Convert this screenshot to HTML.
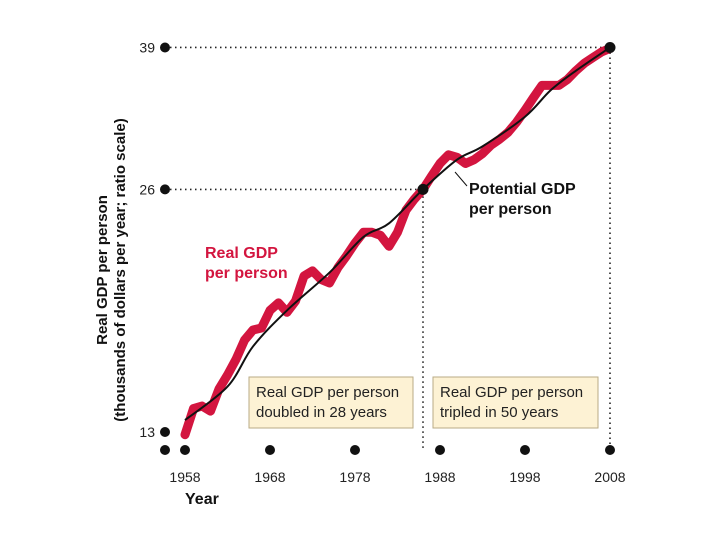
<!DOCTYPE html>
<html><head><meta charset="utf-8"><style>
body{margin:0;background:#fff}
svg text{font-family:"Liberation Sans",sans-serif}
</style></head><body>
<svg width="720" height="540" viewBox="0 0 720 540">
<g id="chart"></g>
</svg>
<script>
const realYears=[1958,1959,1960,1961,1962,1963,1964,1965,1966,1967,1968,1969,1970,1971,1972,1973,1974,1975,1976,1977,1978,1979,1980,1981,1982,1983,1984,1985,1986,1987,1988,1989,1990,1991,1992,1993,1994,1995,1996,1997,1998,1999,2000,2001,2002,2003,2004,2005,2006,2007,2008];
const realValues=[12.9,13.9,14.0,13.8,14.7,15.3,16.0,16.9,17.4,17.5,18.4,18.8,18.3,18.9,20.3,20.6,20.1,19.9,20.8,21.5,22.3,23.0,23.0,22.8,22.1,23.0,24.5,25.3,26.0,27.0,28.0,28.7,28.5,28.0,28.3,28.8,29.5,30.0,30.6,31.5,32.6,33.8,35.0,35.0,35.0,35.6,36.5,37.3,37.9,38.5,38.9];
const potYears=[1958,1963,1966,1970,1975,1979,1982,1986,1990,1993,1998,2001,2004,2008];
const potValues=[13.45,14.8,16.6,18.4,20.5,22.7,23.6,26.0,28.3,29.4,32.0,34.5,36.5,39.0];
const yTicks=[13,26,39];
const xTicks=[1958,1968,1978,1988,1998,2008];

const NS="http://www.w3.org/2000/svg";
const g=document.getElementById('chart');
const X=y=>185+(y-1958)*8.5;
const Y=v=>432-350*Math.log(v/13);
function mk(tag,attrs,text){const e=document.createElementNS(NS,tag);for(const k in attrs)e.setAttribute(k,attrs[k]);if(text!==undefined)e.textContent=text;g.appendChild(e);return e;}

// dotted guide lines
let e;
e=mk('polyline',{points:`165,${Y(26)} ${X(1986)},${Y(26)} ${X(1986)},450`,fill:'none',stroke:'#222','stroke-width':1.6,'stroke-dasharray':'1.5,3.5'});


e=mk('polyline',{points:`165,${Y(39)} ${X(2008)},${Y(39)} ${X(2008)},450`,fill:'none',stroke:'#222','stroke-width':1.6,'stroke-dasharray':'1.5,3.5'});



// real series
e=mk('polyline',{points:realYears.map((y,i)=>X(y)+','+Y(realValues[i])).join(' '),fill:'none',stroke:'#d3153f','stroke-width':9,'stroke-linejoin':'round','stroke-linecap':'round'});


// potential
const pts=potYears.map((y,i)=>[X(y),Y(potValues[i])]);
let d='M'+pts[0][0]+','+pts[0][1];
for(let i=0;i<pts.length-1;i++){const p0=pts[Math.max(0,i-1)],p1=pts[i],p2=pts[i+1],p3=pts[Math.min(pts.length-1,i+2)];
d+=` C${p1[0]+(p2[0]-p0[0])/6},${p1[1]+(p2[1]-p0[1])/6} ${p2[0]-(p3[0]-p1[0])/6},${p2[1]-(p3[1]-p1[1])/6} ${p2[0]},${p2[1]}`;}
e=mk('path',{d:d,fill:'none',stroke:'#111','stroke-width':2});



// y ticks
yTicks.forEach(v=>{
 e=mk('circle',{cx:165,cy:Y(v),r:5,fill:'#111'});
 
 
 e=mk('text',{x:155,y:Y(v)+5,'text-anchor':'end','font-size':14,fill:'#222'},String(v));
 
 
});
e=mk('circle',{cx:165,cy:450,r:5,fill:'#111'});


xTicks.forEach(y=>{
 e=mk('circle',{cx:X(y),cy:450,r:5,fill:'#111'});
 
 
 e=mk('text',{x:X(y),y:482,'text-anchor':'middle','font-size':14,fill:'#222'},String(y));
 
 
});
e=mk('circle',{cx:X(1986),cy:Y(26),r:5.5,fill:'#111'});


e=mk('circle',{cx:X(2008),cy:Y(39),r:5.5,fill:'#111'});


</script>
<svg width="720" height="540" style="position:absolute;left:0;top:0">
<text x="185" y="504" font-size="16" font-weight="bold" fill="#111">Year</text>
<g transform="translate(107,270) rotate(-90)">
<text x="0" y="0" text-anchor="middle" font-size="15" font-weight="bold" fill="#111">Real GDP per person</text>
<text x="0" y="18" text-anchor="middle" font-size="15" font-weight="bold" fill="#111">(thousands of dollars per year; ratio scale)</text>
</g>
<text x="205" y="258" font-size="16" font-weight="bold" fill="#d3153f">Real GDP</text>
<text x="205" y="278" font-size="16" font-weight="bold" fill="#d3153f">per person</text>
<line x1="455" y1="172" x2="467" y2="186" stroke="#111" stroke-width="1"/>
<text x="469" y="194" font-size="16" font-weight="bold" fill="#111">Potential GDP</text>
<text x="469" y="214" font-size="16" font-weight="bold" fill="#111">per person</text>
<g>
<rect x="249" y="377" width="164" height="51" fill="#fdf2d4" stroke="#b9ab86" stroke-width="1"/>
<text x="256" y="397" font-size="15" fill="#222">Real GDP per person</text>
<text x="256" y="417" font-size="15" fill="#222">doubled in 28 years</text>
</g>
<g>
<rect x="433" y="377" width="165" height="51" fill="#fdf2d4" stroke="#b9ab86" stroke-width="1"/>
<text x="440" y="397" font-size="15" fill="#222">Real GDP per person</text>
<text x="440" y="417" font-size="15" fill="#222">tripled in 50 years</text>
</g>
</svg>
</body></html>
